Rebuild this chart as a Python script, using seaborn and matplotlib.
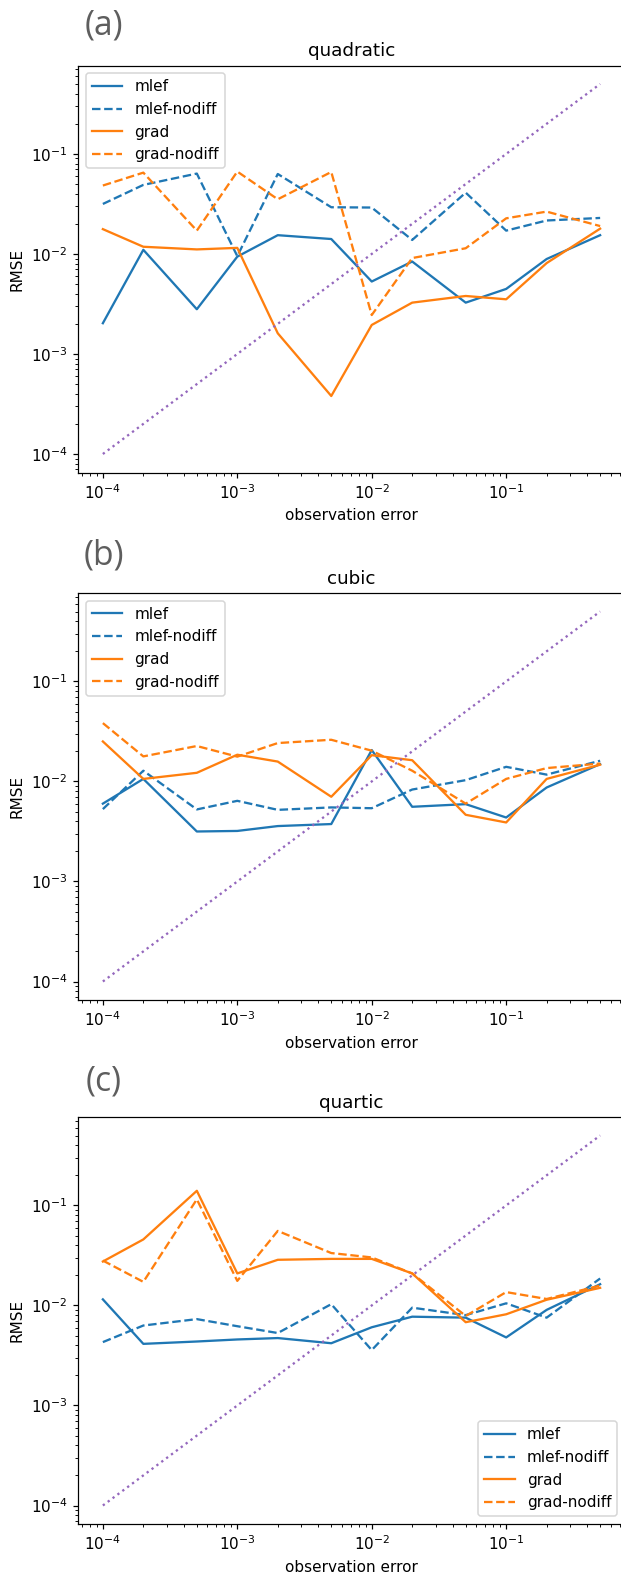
import numpy as np
import pandas as pd
import matplotlib.pyplot as plt
import seaborn as sns

# observation errors (x axis, shared by all panels)
obs_error = [1e-4, 2e-4, 5e-4, 1e-3, 2e-3, 5e-3, 1e-2, 2e-2, 5e-2, 1e-1, 2e-1, 5e-1]

methods = ["mlef", "mlef-nodiff", "grad", "grad-nodiff"]

# RMSE, one list per method and panel
quad_mlef = [0.00203, 0.0110, 0.0028, 0.0094, 0.0154, 0.0141, 0.0053, 0.0084, 0.00326, 0.00447, 0.0089, 0.0154]
quad_mlef_nodiff = [0.0316, 0.049, 0.0636, 0.0095, 0.063, 0.0293, 0.0291, 0.0138, 0.041, 0.0171, 0.0216, 0.0229]
quad_grad = [0.0177, 0.0118, 0.0111, 0.0115, 0.00161, 0.00038, 0.00195, 0.00326, 0.0038, 0.00352, 0.0081, 0.0179]
quad_grad_nodiff = [0.0483, 0.065, 0.0171, 0.0666, 0.0352, 0.066, 0.00245, 0.0091, 0.0114, 0.0227, 0.0265, 0.019]

cub_mlef = [0.0060, 0.0106, 0.00316, 0.0032, 0.00358, 0.00375, 0.0206, 0.00558, 0.00593, 0.00436, 0.0087, 0.0149]
cub_mlef_nodiff = [0.00529, 0.0128, 0.00525, 0.0064, 0.0052, 0.0055, 0.0054, 0.0083, 0.0103, 0.0140, 0.0117, 0.0161]
cub_grad = [0.0251, 0.0106, 0.0122, 0.0185, 0.0158, 0.00703, 0.0183, 0.0163, 0.00464, 0.00389, 0.0106, 0.0147]
cub_grad_nodiff = [0.0383, 0.0178, 0.0226, 0.0177, 0.0242, 0.0261, 0.0203, 0.0128, 0.0060, 0.0106, 0.0136, 0.0151]

quart_mlef = [0.0115, 0.00413, 0.00436, 0.00457, 0.00472, 0.00419, 0.00605, 0.00772, 0.00755, 0.00479, 0.00903, 0.0163]
quart_mlef_nodiff = [0.0043, 0.0063, 0.0073, 0.0062, 0.0053, 0.0103, 0.00358, 0.0095, 0.0080, 0.0105, 0.00755, 0.0186]
quart_grad = [0.0275, 0.0457, 0.140, 0.0209, 0.0286, 0.0292, 0.0292, 0.0209, 0.0068, 0.00816, 0.0114, 0.0150]
quart_grad_nodiff = [0.0281, 0.0172, 0.115, 0.0176, 0.0556, 0.0334, 0.0302, 0.0209, 0.00785, 0.0136, 0.0116, 0.0158]

panels = [
    ("(a)", "quadratic", [quad_mlef, quad_mlef_nodiff, quad_grad, quad_grad_nodiff], "upper left"),
    ("(b)", "cubic", [cub_mlef, cub_mlef_nodiff, cub_grad, cub_grad_nodiff], "upper left"),
    ("(c)", "quartic", [quart_mlef, quart_mlef_nodiff, quart_grad, quart_grad_nodiff], "lower right"),
]

colors = {"mlef": "tab:blue", "mlef-nodiff": "tab:blue", "grad": "tab:orange", "grad-nodiff": "tab:orange"}
styles = {"mlef": "-", "mlef-nodiff": "--", "grad": "-", "grad-nodiff": "--"}

W, H, DPI = 621, 1573, 110
fig = plt.figure(figsize=(W / DPI, H / DPI), dpi=DPI)

ax_left, ax_w, ax_h = 78, 547, 407
ax_tops = [65.5, 593, 1117]
label_y = [26, 556, 1082]

for (tag, title, series, loc), top, ly in zip(panels, ax_tops, label_y):
    ax = fig.add_axes([ax_left / W, 1 - (top + ax_h) / H, ax_w / W, ax_h / H])
    for name, vals in zip(methods, series):
        df = pd.DataFrame({"obs": obs_error, "rmse": vals})
        sns.lineplot(data=df, x="obs", y="rmse", ax=ax, color=colors[name],
                     linestyle=styles[name], label=name, linewidth=1.5)
    ref = pd.DataFrame({"obs": obs_error, "rmse": obs_error})
    sns.lineplot(data=ref, x="obs", y="rmse", ax=ax, color="tab:purple",
                 linestyle=":", linewidth=1.5)
    ax.set_xscale("log")
    ax.set_yscale("log")
    ax.set_title(title)
    ax.set_xlabel("observation error")
    ax.set_ylabel("RMSE")
    ax.legend(loc=loc)
    fig.text(104 / W, 1 - ly / H, tag, ha="center", va="center",
             fontsize=22, color="#5e5e5e",
             family=["Open Sans", "DejaVu Sans"])

fig.savefig("out.png", dpi=DPI)
